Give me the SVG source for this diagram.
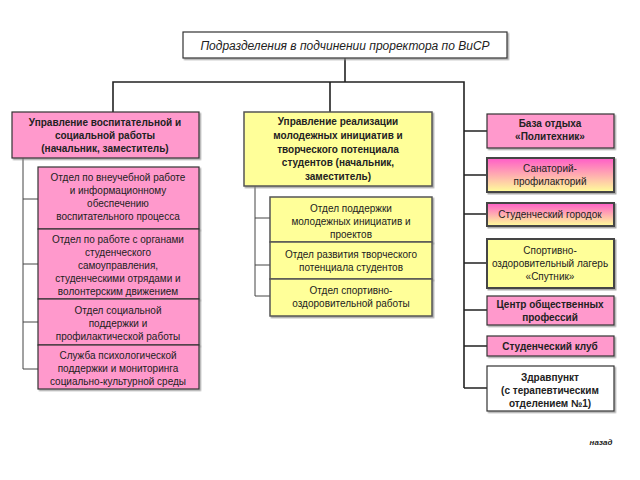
<svg xmlns="http://www.w3.org/2000/svg" width="640" height="480" viewBox="0 0 640 480">
<defs>
<linearGradient id="g1" x1="0" y1="0" x2="0" y2="1">
<stop offset="0" stop-color="#FF5CC8"/>
<stop offset="1" stop-color="#FFFF99"/>
</linearGradient>
<filter id="sh" x="-10%" y="-10%" width="130%" height="140%">
<feDropShadow dx="1.5" dy="1.5" stdDeviation="0.6" flood-color="#888" flood-opacity="0.7"/>
</filter>
</defs>
<style>
text{font-family:"Liberation Sans",Arial,sans-serif;font-size:10px;fill:#222;text-anchor:middle}
.b{font-weight:bold}
.pk{fill:#FF99CC;stroke:#333;stroke-width:1.2}
.yl{fill:#FFFF99;stroke:#555;stroke-width:1.5}
.gr{fill:url(#g1);stroke:#444;stroke-width:2}
.wh{fill:#fff;stroke:#333;stroke-width:1.2}
.ln{fill:none;stroke:#222;stroke-width:1.6}
.ln2{fill:none;stroke:#444;stroke-width:1}
</style>
<rect width="640" height="480" fill="#fff"/>
<g id="connectors">
<path class="ln" d="M345 58V82M113 112V82H464V388M330 82V112"/>
<path class="ln" d="M464 131H487M464 175H487M464 214H487M464 263H487M464 310H487M464 346H487M464 388H487"/>
<path class="ln2" d="M23 158V369H38M23 199H38M23 264H38M23 322H38"/>
<path class="ln2" d="M255 186V296H270M255 218H270M255 265H270"/>
</g>
<g id="top">
<rect x="183" y="32" width="324" height="26" class="wh" filter="url(#sh)"/>
<text x="345" y="50" style="font-style:italic;font-size:12px">Подразделения в подчинении проректора по ВиСР</text>
</g>
<g id="left-head">
<rect x="12" y="112" width="187" height="46" class="pk" filter="url(#sh)"/>
<text class="b" x="105" y="126">Управление воспитательной и</text>
<text class="b" x="105" y="139">социальной работы</text>
<text class="b" x="105" y="152">(начальник, заместитель)</text>
</g>
<g id="left-1">
<rect x="38" y="167" width="161" height="62" class="pk" filter="url(#sh)"/>
<text x="118" y="181">Отдел по внеучебной работе</text>
<text x="118" y="194">и информационному</text>
<text x="118" y="207">обеспечению</text>
<text x="118" y="220">воспитательного  процесса</text>
</g>
<g id="left-2">
<rect x="38" y="229" width="161" height="70" class="pk" filter="url(#sh)"/>
<text x="118" y="243">Отдел по работе с органами</text>
<text x="118" y="256">студенческого</text>
<text x="118" y="269">самоуправления,</text>
<text x="118" y="282">студенческими отрядами и</text>
<text x="118" y="295">волонтерским движением</text>
</g>
<g id="left-3">
<rect x="38" y="299" width="161" height="46" class="pk" filter="url(#sh)"/>
<text x="118" y="314">Отдел социальной</text>
<text x="118" y="327">поддержки и</text>
<text x="118" y="340">профилактической работы</text>
</g>
<g id="left-4">
<rect x="38" y="345" width="161" height="44" class="pk" filter="url(#sh)"/>
<text x="118" y="359">Служба психологической</text>
<text x="118" y="372">поддержки и мониторинга</text>
<text x="118" y="385">социально-культурной среды</text>
</g>
<g id="mid-head">
<rect x="244" y="112" width="188" height="74" class="yl" filter="url(#sh)"/>
<text class="b" x="338" y="125">Управление реализации</text>
<text class="b" x="338" y="139">молодежных инициатив и</text>
<text class="b" x="338" y="153">творческого потенциала</text>
<text class="b" x="338" y="166">студентов (начальник,</text>
<text class="b" x="338" y="180">заместитель)</text>
</g>
<g id="mid-1">
<rect x="270" y="197" width="162" height="45" class="yl" filter="url(#sh)"/>
<text x="351" y="212">Отдел поддержки</text>
<text x="351" y="225">молодежных инициатив и</text>
<text x="351" y="238">проектов</text>
</g>
<g id="mid-2">
<rect x="270" y="242" width="162" height="37" class="yl" filter="url(#sh)"/>
<text x="351" y="258">Отдел развития творческого</text>
<text x="351" y="271">потенциала студентов</text>
</g>
<g id="mid-3">
<rect x="270" y="279" width="162" height="37" class="yl" filter="url(#sh)"/>
<text x="351" y="294">Отдел спортивно-</text>
<text x="351" y="307">оздоровительной работы</text>
</g>
<g id="r-baza">
<rect x="487" y="114" width="127" height="34" class="pk" filter="url(#sh)"/>
<text class="b" x="550" y="127">База отдыха</text>
<text class="b" x="550" y="140">«Политехник»</text>
</g>
<g id="r-sanatorij">
<rect x="487" y="158" width="127" height="34" class="gr" filter="url(#sh)"/>
<text x="550" y="172">Санаторий-</text>
<text x="550" y="185">профилакторий</text>
</g>
<g id="r-gorodok">
<rect x="487" y="203" width="127" height="23" class="gr" filter="url(#sh)"/>
<text x="550" y="218">Студенческий городок</text>
</g>
<g id="r-sputnik">
<rect x="487" y="239" width="127" height="49" class="yl" style="stroke:#444;stroke-width:2" filter="url(#sh)"/>
<text x="550" y="254">Спортивно-</text>
<text x="550" y="267">оздоровительный лагерь</text>
<text x="550" y="280">«Спутник»</text>
</g>
<g id="r-centr">
<rect x="487" y="296" width="127" height="29" class="pk" filter="url(#sh)"/>
<text class="b" x="550" y="308">Центр общественных</text>
<text class="b" x="550" y="321">профессий</text>
</g>
<g id="r-klub">
<rect x="487" y="336" width="127" height="20" class="pk" filter="url(#sh)"/>
<text class="b" x="550" y="350">Студенческий клуб</text>
</g>
<g id="r-zdrav">
<rect x="487" y="366" width="127" height="45" class="wh" filter="url(#sh)"/>
<text class="b" x="550" y="381">Здравпункт</text>
<text class="b" x="550" y="394">(с терапевтическим</text>
<text class="b" x="550" y="407">отделением №1)</text>
</g>
<text x="601" y="445" style="font-size:8px;font-style:italic;font-weight:bold">назад</text>
</svg>
